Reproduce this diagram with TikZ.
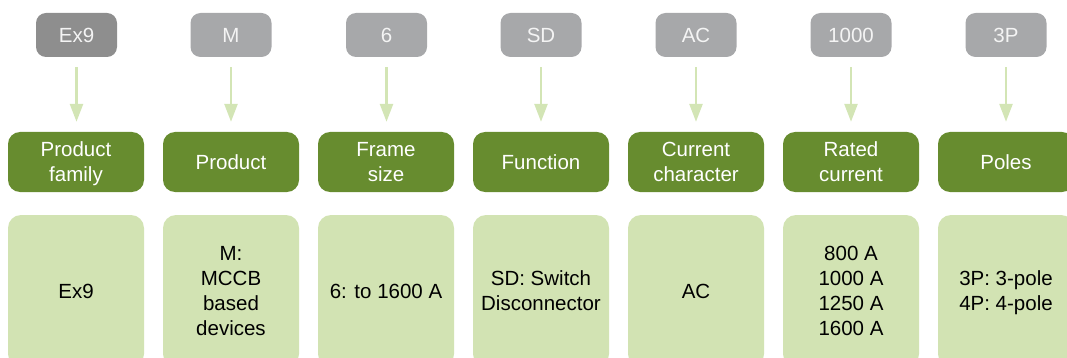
\documentclass[tikz,border=0pt]{standalone}
\usepackage{fontspec}
\setmainfont{Liberation Sans}
\usetikzlibrary{arrows.meta}
\definecolor{hdrgreen}{HTML}{678C2F}
\definecolor{lightgreen}{HTML}{D2E3B3}
\definecolor{arrowgreen}{HTML}{D3E5B5}
\definecolor{codegray}{HTML}{A7A8AA}
\definecolor{codedark}{HTML}{8E8E8E}
\definecolor{codetext}{HTML}{F4F4F4}
\tikzset{
  codebox/.style={fill=codegray, draw=none, rounded corners=10pt, minimum width=81pt, minimum height=44pt, inner sep=0pt, text=codetext, font=\fontsize{20.5}{25}\selectfont},
  hdrbox/.style={fill=hdrgreen, draw=none, rounded corners=12pt, minimum width=136pt, minimum height=60pt, inner sep=0pt, text=white, align=center, font=\fontsize{20.5}{25}\selectfont},
  descbox/.style={fill=lightgreen, draw=none, rounded corners=13pt, minimum width=136pt, minimum height=152pt, inner sep=0pt, text=black, align=center, font=\fontsize{20.5}{25}\selectfont},
  flowarrow/.style={draw=arrowgreen, line width=2.6pt, -{Triangle[width=13pt,length=18pt]}, shorten <=10pt, shorten >=10pt}
}
\begin{document}
\begin{tikzpicture}[x=1pt,y=-1pt]
\useasboundingbox (0,0) rectangle (1067,358);
\clip (0,0) rectangle (1067,358);
% codes
\node[codebox, fill=codedark] (c1) at (76.5,35) {Ex9};
\node[codebox] (c2) at (231,35) {M};
\node[codebox] (c3) at (386.5,35) {6};
\node[codebox] (c4) at (541,35) {SD};
\node[codebox] (c5) at (696,35) {AC};
\node[codebox] (c6) at (851,35) {1000};
\node[codebox] (c7) at (1006,35) {3P};
% headers
\node[hdrbox] (h1) at (76,162) {Product\\\smash{family}};
\node[hdrbox] (h2) at (231,162) {Product};
\node[hdrbox] (h3) at (386,162) {Frame\\size};
\node[hdrbox] (h4) at (541,162) {Function};
\node[hdrbox] (h5) at (696,162) {Current\\character};
\node[hdrbox] (h6) at (851,162) {Rated\\current};
\node[hdrbox] (h7) at (1006,162) {Poles};
% descriptions
\node[descbox] (d1) at (76,291) {Ex9};
\node[descbox] (d2) at (231,291) {M:\\MCCB\\based\\devices};
\node[descbox] (d3) at (386,291) {6: to 1600 A};
\node[descbox] (d4) at (541,291) {SD: Switch\\Disconnector};
\node[descbox] (d5) at (696,291) {AC};
\node[descbox] (d6) at (851,291) {800 A\\1000 A\\1250 A\\1600 A};
\node[descbox] (d7) at (1006,291) {3P: 3-pole\\\smash{4P: 4-pole}};
% arrows
\foreach \i in {1,...,7} {
  \draw[flowarrow] (c\i.south) -- (c\i.south |- h\i.north);
}
\end{tikzpicture}
\end{document}
